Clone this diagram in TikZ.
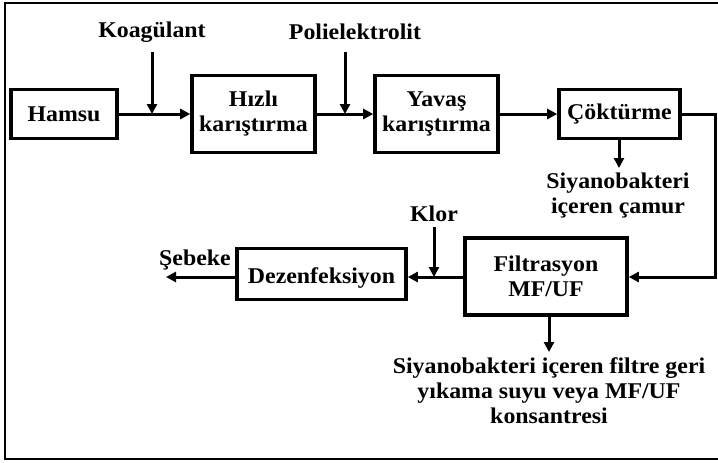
\documentclass[tikz,border=0pt]{standalone}
\usepackage{fontspec}
\setmainfont{Liberation Serif}[FakeStretch=1.06]
\usetikzlibrary{arrows.meta}
\begin{document}
\begin{tikzpicture}[x=1pt,y=-1pt,
  every node/.style={font=\fontsize{22.5}{25}\selectfont\bfseries, inner sep=0pt},
  procbox/.style={draw, line width=3.6pt, align=center},
  lbl/.style={align=center},
  conn/.style={line width=3pt},
  arr/.style={conn, -{Triangle[length=10pt,width=10pt]}}]
\useasboundingbox (0,0) rectangle (718,463);
\draw[line width=2.4pt] (718,3) -- (5,3) -- (5,459) -- (718,459);
% boxes
\node[procbox, minimum width=106pt, minimum height=49pt] (hamsu) at (64,114) {Hamsu};
\node[procbox, minimum width=123pt, minimum height=77pt] (hizli) at (253.5,114) {Hızlı\\karıştırma};
\node[procbox, minimum width=123pt, minimum height=77pt] (yavas) at (436.5,114) {Yavaş\\karıştırma};
\node[procbox, minimum width=121pt, minimum height=49pt] (cok) at (619.5,114) {Çöktürme};
\node[procbox, minimum width=162pt, minimum height=77pt] (filt) at (546,276.5) {Filtrasyon\\MF/UF};
\node[procbox, minimum width=169pt, minimum height=51pt, text depth=0pt] (dez) at (321.5,274) {\raisebox{-4pt}{Dezenfeksiyon}};
% labels
\node[lbl] (koag) at (152,32) {Koagülant};
\node[lbl] (poli) at (355,32) {Polielektrolit};
\node[lbl] (klor) at (434,214) {Klor};
\node[lbl] (camur) at (618,196) {Siyanobakteri\\içeren çamur};
\node[lbl] (sebeke) at (195,260) {Şebeke};
\node[lbl] (yikama) at (549,391) {Siyanobakteri içeren filtre geri\\yıkama suyu veya MF/UF\\konsantresi};
% coordinates
\coordinate (k1) at (152,52);
\coordinate (k2) at (152,114);
\coordinate (p1) at (345,52);
\coordinate (p2) at (345,114);
\coordinate (r1) at (715,114);
\coordinate (r2) at (715,277);
\coordinate (c1) at (619,168);
\coordinate (kl1) at (434,227);
\coordinate (kl2) at (434,277);
\coordinate (s1) at (166,277);
\coordinate (f1) at (549,352);
% connectors
\draw[arr] (hamsu.east) -- (hizli.west);
\draw[arr] (k1) -- (k2);
\draw[arr] (hizli.east) -- (yavas.west);
\draw[arr] (p1) -- (p2);
\draw[arr] (yavas.east) -- (cok.west);
\draw[arr] (cok.east) -- (r1) -- (r2) -- (filt.east |- r2);
\draw[arr] (cok.south -| c1) -- (c1);
\draw[arr] (filt.west |- kl2) -- (dez.east |- kl2);
\draw[arr] (kl1) -- (kl2);
\draw[arr] (dez.west |- s1) -- (s1);
\draw[arr] (filt.south -| f1) -- (f1);
\end{tikzpicture}
\end{document}
